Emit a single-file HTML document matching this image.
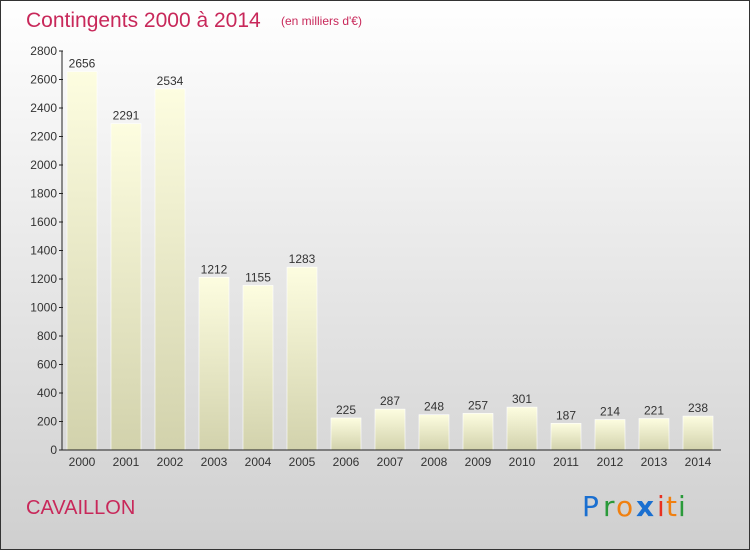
<!DOCTYPE html>
<html><head><meta charset="utf-8"><style>
body{margin:0}
svg{display:block;font-family:"Liberation Sans",sans-serif}
</style></head><body>
<svg width="750" height="550" xmlns="http://www.w3.org/2000/svg">
<defs>
<linearGradient id="bg" x1="0" y1="0" x2="0" y2="1"><stop offset="0" stop-color="#ffffff"/><stop offset="1" stop-color="#cfcfcf"/></linearGradient>
<linearGradient id="bar" x1="0" y1="0" x2="0" y2="1"><stop offset="0" stop-color="#fdfde0"/><stop offset="1" stop-color="#d2d2ac"/></linearGradient>
</defs>
<rect x="0.5" y="0.5" width="749" height="549" fill="url(#bg)" stroke="#333"/>
<text x="26" y="27" font-size="21" fill="#c8285a">Contingents 2000 à 2014</text>
<text x="281" y="25" font-size="12" fill="#c8285a">(en milliers d'€)</text>
<text x="26" y="514" font-size="20" fill="#c8285a">CAVAILLON</text>
<g font-size="28" font-family="'DejaVu Sans',sans-serif">
<text x="582" y="516" fill="#1a6fd0">P</text><text x="603" y="516" fill="#2a9a3a">r</text><text x="616" y="516" fill="#f08010">o</text><text x="636" y="516" fill="#1a6fd0" font-weight="bold">x</text><text x="657" y="516" fill="#e83020">i</text><text x="666" y="516" fill="#f08010">t</text><text x="678" y="516" fill="#2a9a3a">i</text>
</g>
<g id="plot"></g>
</svg>
<script>
const years=["2000","2001","2002","2003","2004","2005","2006","2007","2008","2009","2010","2011","2012","2013","2014"];
const values=[2656,2291,2534,1212,1155,1283,225,287,248,257,301,187,214,221,238];
const yTicks=[0,200,400,600,800,1000,1200,1400,1600,1800,2000,2200,2400,2600,2800];
const NS="http://www.w3.org/2000/svg";
const g=document.getElementById('plot');
const y0=450,yTop=51,yMax=2800;
const yScale=v=>y0-(v/yMax)*(y0-yTop);
const xScale=i=>82+i*44;
function el(t,a,txt){const e=document.createElementNS(NS,t);for(const k in a)e.setAttribute(k,a[k]);if(txt!==undefined)e.textContent=txt;g.appendChild(e);return e;}
years.forEach((yr,i)=>{
 const x=xScale(i),y=yScale(values[i]);
 const b=el('rect',{x:x-15,y:y,width:30,height:y0-y,fill:'url(#bar)',stroke:'#fff','stroke-width':0.6});
 
 
 const l=el('text',{x:x,y:y-4,'text-anchor':'middle','font-size':12,fill:'#333'},values[i]);
 
 
 const t=el('text',{x:x,y:466,'text-anchor':'middle','font-size':12,fill:'#333'},yr);
 
 
});
yTicks.forEach(v=>{
 const y=yScale(v);
 const tk=el('line',{x1:59,x2:63,y1:y,y2:y,stroke:'#222'});
 
 
 const t=el('text',{x:57,y:y+4,'text-anchor':'end','font-size':12,fill:'#333'},v);
 
 
});
const ya=el('line',{x1:62,x2:62,y1:yTop,y2:y0,stroke:'#222'});


const xa=el('line',{x1:62,x2:721,y1:y0,y2:y0,stroke:'#222'});


</script>
</body></html>
